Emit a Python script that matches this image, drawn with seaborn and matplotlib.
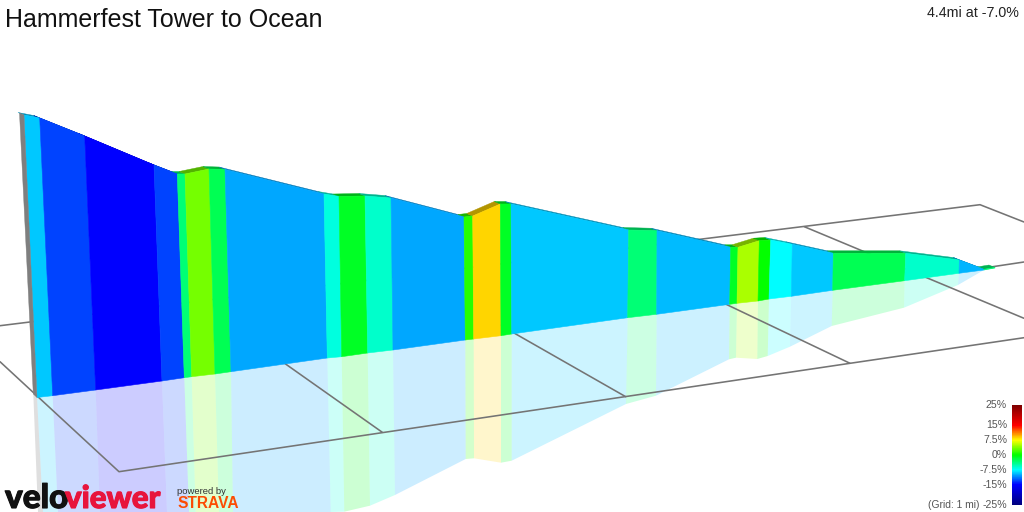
import matplotlib
matplotlib.use('Agg')
import matplotlib.pyplot as plt
from matplotlib.colors import LinearSegmentedColormap
import matplotlib.patheffects as pe
import numpy as np
import pandas as pd
import seaborn as sns

sns.set_theme(style='white')
plt.rcParams['font.family'] = ['Liberation Sans', 'DejaVu Sans']

title = 'Hammerfest Tower to Ocean'
summary = '4.4mi at -7.0%'
grid_note = '(Grid: 1 mi)'

# profile, one entry per gradient change
top_x = [24, 39.7, 84.7, 154, 177.3, 185, 209, 225, 324, 339, 365, 391, 464, 472.7,
         500.3, 511, 628.7, 657, 730.7, 738, 759.3, 770.7, 792.3, 833.3, 905.7, 959.3, 984, 995]
top_y = [115, 118, 136, 165, 174, 174, 169, 169.5, 194, 196.5, 196, 198, 217, 216,
         204, 204, 230, 230.7, 247.3, 247.3, 240.7, 240, 244.3, 253.3, 253.3, 260, 269.3, 267.5]
base_x = [37, 52.7, 95.7, 162, 184.3, 191.7, 215, 231, 327.3, 341.7, 367.7, 393, 465.3, 473.7,
          501, 511.7, 627.7, 656.7, 729.7, 737, 758, 769, 791.3, 832.7, 904.7, 959, 984, 995]
base_y = [397.5, 395.7, 390, 381, 377.7, 376.7, 374, 371.7, 358, 356.7, 353, 350, 340, 339,
          335.7, 334, 317.7, 314.3, 304.3, 303.3, 301, 299, 296.3, 290.3, 280.7, 273.3, 270, 268]
# mirror image on the ground, runs off the bottom up to about x=344
mirror_x = [43, 58, 100, 167, 189, 195.7, 219, 233, 330.7, 344.3, 370, 395, 465.7, 474,
            501, 511.7, 626, 656, 729, 736, 757.3, 767.7, 790, 831.7, 904, 958, 984, 995]
mirror_y = [512, 512, 512, 512, 512, 512, 512, 512, 512, 511.7, 505.7, 495, 459, 458.3,
            462.7, 460.7, 404, 395.7, 359.3, 357.7, 359, 356, 346.7, 326, 307.7, 285, 270, 268]
grades = [-9, -13, -15, -13, -3.5, 3.4, -2.5, -10, -6.6, -1, -6, -10, 1, 8.7,
          -1, -9, -3.5, -9.5, -1, 5, 0, -7.5, -9, -2.5, -6, -9.7, -3.5]

scale_values = [-25, -15, -7.5, 0, 7.5, 15, 25]
scale_colors = ['#000080', '#0000ff', '#00ffff', '#00ff00', '#ffff00', '#ff0000', '#800000']
scale_labels = ['-25%', '-15%', '-7.5%', '0%', '7.5%', '15%', '25%']

grid_lines = {
    'back': ([0, 980, 1024], [325.7, 204.7, 222]),
    'left': ([0, 119, 850, 1024], [361.7, 471.7, 363.3, 337.7]),
    'cross1': ([270, 382.3], [353, 432.3]),
    'cross2': ([500, 625.7], [325, 396.7]),
    'cross3': ([715, 850], [299, 363.3]),
    'cross4': ([804.3, 1024], [226.7, 318.3]),
    'base': ([984, 1024], [268, 262]),
}

RIBBON_DX = -6
RIBBON_DY = -2.5

cmap = LinearSegmentedColormap.from_list(
    'grade', [((v + 25) / 50, c) for v, c in zip(scale_values, scale_colors)])


def grade_color(g):
    return cmap((g + 25) / 50)


fig = plt.figure(figsize=(10.24, 5.12), dpi=100)
ax = fig.add_axes([0, 0, 1, 1])
ax.set_xlim(0, 1024)
ax.set_ylim(512, 0)
ax.axis('off')

# reflection first, the grid sits on it
for i, g in enumerate(grades):
    xs = [base_x[i], base_x[i + 1], mirror_x[i + 1], mirror_x[i]]
    ys = [base_y[i], base_y[i + 1], mirror_y[i + 1], mirror_y[i]]
    ax.fill(xs, ys, color=grade_color(g), alpha=0.2, lw=0, zorder=1)
ax.fill([33.3, 37, 43, 38], [394, 397.5, 512, 512], color='#808080', alpha=0.25, lw=0, zorder=1)

rows = []
for name, (xs, ys) in grid_lines.items():
    for x, y in zip(xs, ys):
        rows.append({'line': name, 'x': x, 'y': y})
grid_df = pd.DataFrame(rows)
sns.lineplot(data=grid_df, x='x', y='y', units='line', estimator=None, sort=False,
             color='#747474', lw=1.15, ax=ax, zorder=2, legend=False)

# dark top strip behind the wall
for i, g in enumerate(grades):
    r, gg, b, _ = grade_color(g)
    xs = [top_x[i], top_x[i + 1], top_x[i + 1] + RIBBON_DX, top_x[i] + RIBBON_DX]
    ys = [top_y[i], top_y[i + 1], top_y[i + 1] + RIBBON_DY, top_y[i] + RIBBON_DY]
    ax.fill(xs, ys, color=(r * 0.7, gg * 0.7, b * 0.7), lw=0.3, zorder=3)

# wall
for i, g in enumerate(grades):
    xs = [top_x[i], top_x[i + 1], base_x[i + 1], base_x[i]]
    ys = [top_y[i], top_y[i + 1], base_y[i + 1], base_y[i]]
    ax.fill(xs, ys, color=grade_color(g), lw=0.4, zorder=4)
ax.fill([19.5, 24, 37, 33.3], [113, 115, 397.5, 394], color='#7f7f7f', lw=0.3, zorder=4)

ax.text(5, 20, title, fontsize=18, color='#111111', va='center', ha='left')
ax.text(1019, 13, summary, fontsize=10.3, color='#222222', va='center', ha='right')

# colour scale
cax = fig.add_axes([1012 / 1024, 1 - 505 / 512, 10 / 1024, 100 / 512])
ramp = np.linspace(25, -25, 100).reshape(-1, 1)
sns.heatmap(ramp, ax=cax, cmap=cmap, vmin=-25, vmax=25, cbar=False,
            xticklabels=False, yticklabels=False)
for v, lab in zip(scale_values, scale_labels):
    ax.text(1007, 455 - v * 2, lab, fontsize=7.6, color='#555555', va='center', ha='right')
ax.text(980, 505, grid_note, fontsize=7.4, color='#555555', va='center', ha='right')

# logo
ax.text(5, 508, 'velo', fontsize=24, color='#111111', family=['Lato', 'DejaVu Sans'],
        weight='black', va='baseline', ha='left', zorder=6,
        path_effects=[pe.withStroke(linewidth=0.8, foreground='#111111')])
ax.text(65, 508, 'viewer', fontsize=22.5, color='#e8143c', family=['Lato', 'DejaVu Sans'],
        weight='black', va='baseline', ha='left', zorder=6,
        path_effects=[pe.withStroke(linewidth=0.8, foreground='#e8143c')])
ax.text(177, 492, 'powered by', fontsize=6.8, color='#333333', va='center', ha='left', zorder=6)
ax.text(177, 504, 'STRAVA', fontsize=11.2, color='#fc4c02', weight='bold', va='center', ha='left', zorder=6)

fig.savefig('out.png', dpi=100)
